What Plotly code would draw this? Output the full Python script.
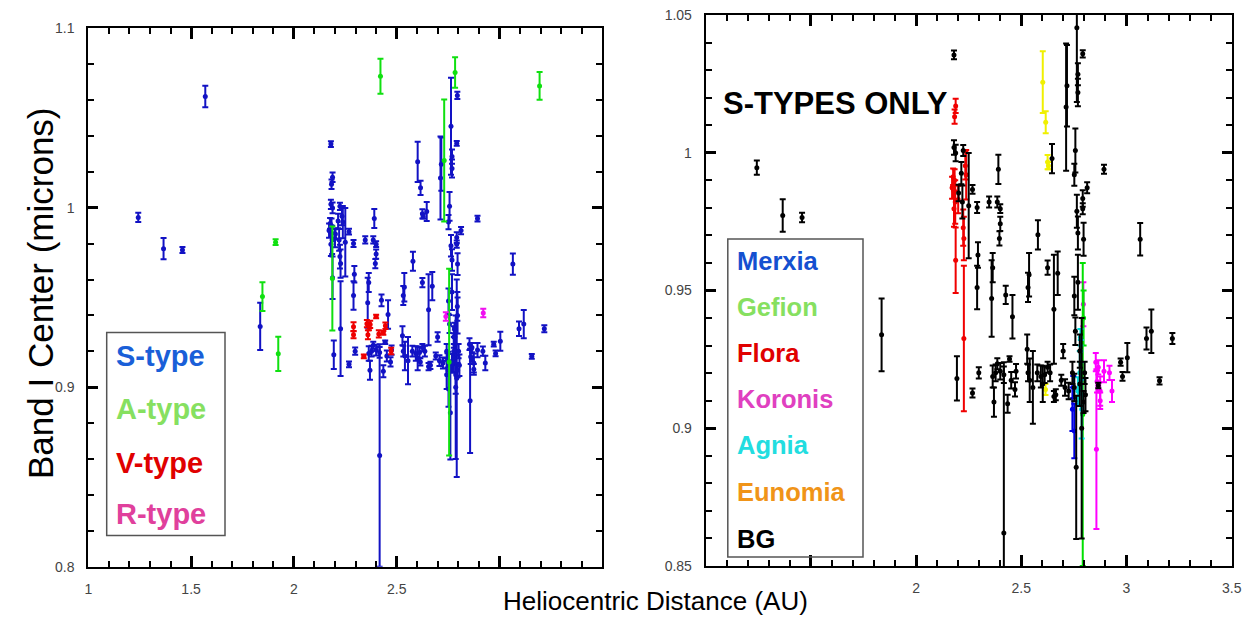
import plotly.graph_objects as go

# ---------------- data (heliocentric distance AU, band I center microns, error) ----------------
# S-type asteroids, grouped by family (right panel colours); all are blue S-types on the left panel
bg_x = [1.243, 1.366, 1.458, 1.569, 1.836, 2.180, 2.194, 2.792, 2.795, 2.764, 2.717, 2.713, 2.769, 2.769,
        2.757, 2.752, 2.764, 2.769, 2.792, 2.792, 2.813, 2.796, 2.646, 2.893, 3.065, 3.095, 3.118, 3.218,
        3.157, 2.972, 2.981, 3.004,
        2.180, 2.188, 2.202, 2.215, 2.224, 2.220, 2.250, 2.268, 2.290, 2.294, 2.290, 2.347, 2.391, 2.386,
        2.400, 2.400, 2.396, 2.364, 2.359, 2.426, 2.458, 2.579, 2.532, 2.537, 2.625, 2.673, 2.655, 2.699,
        2.298, 2.268, 2.364, 2.370, 2.378, 2.386, 2.400, 2.417, 2.417, 2.435, 2.444, 2.452, 2.470, 2.475,
        2.528, 2.532, 2.540, 2.555, 2.576, 2.593, 2.602, 2.611, 2.625, 2.637, 2.655, 2.664, 2.690, 2.708,
        2.725, 2.743, 2.752, 2.761, 2.787, 2.778, 2.796, 2.801, 2.805, 2.866, 2.757, 2.752, 2.769, 2.778]
bg_y = [0.9946, 0.9772, 0.9765, 1.0620, 0.9339, 1.0355, 0.9181, 1.0359, 1.0626, 1.0454, 1.0243, 1.0166, 1.0285, 1.0219,
        1.0008, 0.9920, 0.9788, 0.9709, 0.9834, 0.9797, 0.9873, 0.9686, 0.9979, 0.9940, 0.9686, 0.9326, 0.9352, 0.9326,
        0.9172, 0.9240, 0.9188, 0.9256,
        1.0019, 0.9999, 0.9854, 0.9926, 1.0008, 0.9821, 0.9808, 0.9867, 0.9801, 0.9629, 0.9511, 0.9821, 0.9940, 0.9821,
        0.9797, 0.9742, 0.9689, 0.9583, 0.9471, 0.9484, 0.9405, 0.9702, 0.9511, 0.9557, 0.9583, 0.9563, 0.9432, 0.9280,
        0.9201, 0.9128, 0.9188, 0.9095, 0.9201, 0.9234, 0.9207, 0.9194, 0.8620, 0.9089, 0.9251, 0.9174, 0.9141, 0.9207,
        0.9287, 0.9201, 0.9174, 0.9148, 0.9201, 0.9188, 0.9161, 0.9194, 0.9221, 0.9201, 0.9115, 0.9122, 0.9174, 0.9148,
        0.9135, 0.9201, 0.9148, 0.8858, 0.9000, 0.9161, 0.9095, 0.9201, 0.9122, 0.9155, 0.9352, 0.9480, 0.9530, 0.9280]
bg_e = [0.0026, 0.0059, 0.0017, 0.0060, 0.0132, 0.0016, 0.0080, 0.0013, 0.0020, 0.0270, 0.0148, 0.0231, 0.0040, 0.0050,
        0.0080, 0.0040, 0.0060, 0.0060, 0.0030, 0.0020, 0.0020, 0.0060, 0.0053, 0.0016, 0.0059, 0.0040, 0.0079, 0.0020,
        0.0013, 0.0013, 0.0016, 0.0053,
        0.0026, 0.0030, 0.0030, 0.0040, 0.0020, 0.0060, 0.0191, 0.0016, 0.0020, 0.0046, 0.0079, 0.0020, 0.0053, 0.0020,
        0.0016, 0.0026, 0.0026, 0.0053, 0.0139, 0.0033, 0.0079, 0.0053, 0.0053, 0.0079, 0.0026, 0.0079, 0.0198, 0.0026,
        0.0020, 0.0016, 0.0040, 0.0053, 0.0030, 0.0020, 0.0030, 0.0030, 0.0620, 0.0033, 0.0010, 0.0030, 0.0026, 0.0026,
        0.0053, 0.0030, 0.0079, 0.0132, 0.0030, 0.0040, 0.0066, 0.0030, 0.0020, 0.0030, 0.0020, 0.0020, 0.0020, 0.0030,
        0.0030, 0.0040, 0.0050, 0.0260, 0.0400, 0.0080, 0.0040, 0.0040, 0.0060, 0.0010, 0.0050, 0.0070, 0.0100, 0.0060]

flora_x = [2.188, 2.183, 2.183, 2.186, 2.180, 2.188, 2.224, 2.227, 2.227, 2.234, 2.238, 2.176, 2.171, 2.200]
flora_y = [1.0170, 1.0131, 0.9900, 0.9821, 0.9797, 0.9610, 0.9728, 0.9689, 0.9326, 0.9953, 0.9920, 0.9913, 0.9873, 0.9830]
flora_e = [0.0026, 0.0026, 0.0040, 0.0079, 0.0066, 0.0119, 0.0066, 0.0079, 0.0264, 0.0050, 0.0090, 0.0030, 0.0040, 0.0050]

eunomia_x = [2.602, 2.616, 2.625, 2.629, 2.615]
eunomia_y = [1.0256, 1.0111, 0.9966, 0.9953, 0.9141]
eunomia_e = [0.0112, 0.0040, 0.0026, 0.0013, 0.0020]

koronis_x = [2.857, 2.854, 2.866, 2.875, 2.893, 2.919, 2.931, 2.875, 2.860, 2.795]
koronis_y = [0.8924, 0.9240, 0.9221, 0.9135, 0.9207, 0.9201, 0.9135, 0.9100, 0.9170, 0.9450]
koronis_e = [0.0290, 0.0033, 0.0026, 0.0053, 0.0040, 0.0026, 0.0040, 0.0030, 0.0040, 0.0080]

agnia_x = [2.778, 2.787, 2.769, 2.783, 2.781]
agnia_y = [0.9201, 0.9069, 0.9135, 0.9280, 0.9330]
agnia_e = [0.0079, 0.0106, 0.0050, 0.0040, 0.0030]

merxia_x = [2.743, 2.752, 2.747]
merxia_y = [0.9069, 0.8990, 0.9150]
merxia_e = [0.0079, 0.0099, 0.0040]

gefion_x = [2.792, 2.796]
gefion_y = [0.9050, 0.9400]
gefion_e = [0.0550, 0.0100]

# other taxonomic types (left panel only)
atype_x = [2.421, 2.784, 3.195, 2.731, 1.911, 1.847, 1.924, 2.187, 2.755]
atype_y = [1.0733, 1.0754, 1.0679, 1.0263, 0.9808, 0.9505, 0.9186, 0.9606, 0.9140]
atype_e = [0.0097, 0.0085, 0.0077, 0.0340, 0.0016, 0.0080, 0.0095, 0.0290, 0.0520]

vtype_x = [2.290, 2.290, 2.355, 2.371, 2.360, 2.400, 2.413, 2.435, 2.445, 2.340, 2.473, 2.365]
vtype_y = [0.9337, 0.9293, 0.9354, 0.9350, 0.9293, 0.9394, 0.9297, 0.9303, 0.9343, 0.9172, 0.9202, 0.9337]
vtype_e = [0.0025, 0.0020, 0.0020, 0.0020, 0.0025, 0.0010, 0.0020, 0.0010, 0.0018, 0.0010, 0.0018, 0.0020]

rtype_x = [2.739, 2.921]
rtype_y = [0.9394, 0.9414]
rtype_e = [0.0024, 0.0024]

left_legend = ["S-type", "A-type", "V-type", "R-type"]
left_legend_colors = ["#1a5fd8", "#86e060", "#e00000", "#e0409c"]
right_legend = ["Merxia", "Gefion", "Flora", "Koronis", "Agnia", "Eunomia", "BG"]
right_legend_colors = ["#1450d0", "#86e060", "#e00000", "#e040c0", "#22dde0", "#f09418", "#000000"]

# tick labels hidden on each panel (the reference omits them)
left_x_hidden = {"3": " ", "3.5": " "}
right_x_hidden = {"1": " ", "1.5": " "}

# ---------------- figure ----------------
# the page body keeps an 8px margin, so the figure is sized to fill the window exactly
PAGE_W, PAGE_H, BODY = 1253, 628, 8
W, H = PAGE_W - 2 * BODY, PAGE_H - 2 * BODY
FONT = "Liberation Sans, Arial, sans-serif"
X_RANGE = [1, 3.5]
LY_RANGE = [0.8, 1.1000001]
RY_RANGE = [0.85, 1.0500001]

fig = go.Figure()


def add_series(xs, ys, es, color, xa, ya):
    fig.add_trace(go.Scatter(
        x=xs, y=ys, mode="markers", xaxis=xa, yaxis=ya, showlegend=False, cliponaxis=True,
        marker=dict(color=color, size=5, line=dict(width=0)),
        error_y=dict(type="data", array=es, visible=True, color=color, thickness=2, width=3),
    ))


# left panel
s_all_x = merxia_x + gefion_x + flora_x + koronis_x + agnia_x + eunomia_x + bg_x
s_all_y = merxia_y + gefion_y + flora_y + koronis_y + agnia_y + eunomia_y + bg_y
s_all_e = merxia_e + gefion_e + flora_e + koronis_e + agnia_e + eunomia_e + bg_e
add_series(s_all_x, s_all_y, s_all_e, "#1212c4", "x", "y")
add_series(atype_x, atype_y, atype_e, "#10e010", "x", "y")
add_series(vtype_x, vtype_y, vtype_e, "#ee0000", "x", "y")
add_series(rtype_x, rtype_y, rtype_e, "#f010f0", "x", "y")

# right panel
add_series(flora_x, flora_y, flora_e, "#f00000", "x2", "y2")
add_series(eunomia_x, eunomia_y, eunomia_e, "#f0f000", "x2", "y2")
add_series(koronis_x, koronis_y, koronis_e, "#ff00ff", "x2", "y2")
add_series(gefion_x, gefion_y, gefion_e, "#00e000", "x2", "y2")
add_series(agnia_x, agnia_y, agnia_e, "#00e0e0", "x2", "y2")
add_series(merxia_x, merxia_y, merxia_e, "#0000e0", "x2", "y2")
add_series(bg_x, bg_y, bg_e, "#000000", "x2", "y2")

# empty traces so the minor-tick overlay axes are drawn
for xa, ya in (("x3", "y3"), ("x4", "y4")):
    fig.add_trace(go.Scatter(x=[None], y=[None], xaxis=xa, yaxis=ya, showlegend=False,
                             hoverinfo="skip", mode="markers"))


def px_x(p):
    return (p - BODY) / W


def px_y(p):
    return 1 - (p - BODY) / H


axis_common = dict(showline=True, linecolor="black", linewidth=2, mirror="allticks", ticks="inside",
                   tickcolor="black", tickwidth=2.5, showgrid=False, zeroline=False, automargin=False,
                   tickmode="linear", ticklabeloverflow="allow",
                   tickfont=dict(family=FONT, size=14, color="#444"))
minor_axis = dict(showline=False, mirror="allticks", ticks="inside", tickcolor="black", tickwidth=2,
                  ticklen=6, showgrid=False, zeroline=False, automargin=False, tickmode="linear",
                  showticklabels=False)

fig.update_layout(
    template="none",
    width=W, height=H, autosize=False,
    margin=dict(l=0, r=0, t=0, b=0, pad=0),
    paper_bgcolor="white", plot_bgcolor="white",
    showlegend=False,
    xaxis=dict(domain=[px_x(88.3), px_x(602.3)], range=X_RANGE, anchor="y",
               tick0=1, dtick=0.5, ticklen=11, labelalias=left_x_hidden, ticklabelstandoff=8, **axis_common),
    yaxis=dict(domain=[px_y(566.7), px_y(28.3)], range=LY_RANGE, anchor="x",
               tick0=0.8, dtick=0.1, ticklen=10, ticklabelstandoff=9, **axis_common),
    xaxis2=dict(domain=[px_x(705.7), px_x(1231.7)], range=X_RANGE, anchor="y2",
                tick0=1, dtick=0.5, ticklen=11, labelalias=right_x_hidden, ticklabelstandoff=8, **axis_common),
    yaxis2=dict(domain=[px_y(566), px_y(15)], range=RY_RANGE, anchor="x2",
                tick0=0.85, dtick=0.05, ticklen=10, ticklabelstandoff=9, **axis_common),
    # minor tick overlays
    xaxis3=dict(overlaying="x", anchor="y", range=X_RANGE, tick0=1, dtick=0.1, **minor_axis),
    yaxis3=dict(overlaying="y", anchor="x", range=LY_RANGE, tick0=0.8, dtick=0.02, **minor_axis),
    xaxis4=dict(overlaying="x2", anchor="y2", range=X_RANGE, tick0=1, dtick=0.1, **minor_axis),
    yaxis4=dict(overlaying="y2", anchor="x2", range=RY_RANGE, tick0=0.85, dtick=0.01, **minor_axis),
)

annotations = [
    dict(text="Band I Center (microns)", x=px_x(40), y=px_y(293), textangle=-90,
         font=dict(family=FONT, size=35, color="black"), xanchor="center", yanchor="middle"),
    dict(text="Heliocentric Distance (AU)", x=px_x(655), y=px_y(601),
         font=dict(family=FONT, size=26, color="black"), xanchor="center", yanchor="middle"),
    dict(text="<b>S-TYPES ONLY</b>", x=px_x(721), y=px_y(103),
         font=dict(family=FONT, size=31, color="black"), xanchor="left", yanchor="middle"),
]
for lbl, col, yc in zip(left_legend, left_legend_colors, [356, 409, 463, 514]):
    annotations.append(dict(text=f"<b>{lbl}</b>", x=px_x(114), y=px_y(yc),
                            font=dict(family=FONT, size=29, color=col), xanchor="left", yanchor="middle"))
for lbl, col, yc in zip(right_legend, right_legend_colors, [261, 307, 353, 399, 445, 492, 539]):
    annotations.append(dict(text=f"<b>{lbl}</b>", x=px_x(735), y=px_y(yc),
                            font=dict(family=FONT, size=25.5, color=col), xanchor="left", yanchor="middle"))
for a in annotations:
    a.update(xref="paper", yref="paper", showarrow=False)
fig.update_layout(annotations=annotations)

fig.add_shape(type="rect", xref="paper", yref="paper",
              x0=px_x(106.7), x1=px_x(225), y0=px_y(535.5), y1=px_y(332.5),
              line=dict(color="#555", width=1.5), fillcolor="rgba(0,0,0,0)")
fig.add_shape(type="rect", xref="paper", yref="paper",
              x0=px_x(727.8), x1=px_x(863), y0=px_y(557), y1=px_y(239),
              line=dict(color="#555", width=1.5), fillcolor="rgba(0,0,0,0)")

fig.write_html("out.html")
